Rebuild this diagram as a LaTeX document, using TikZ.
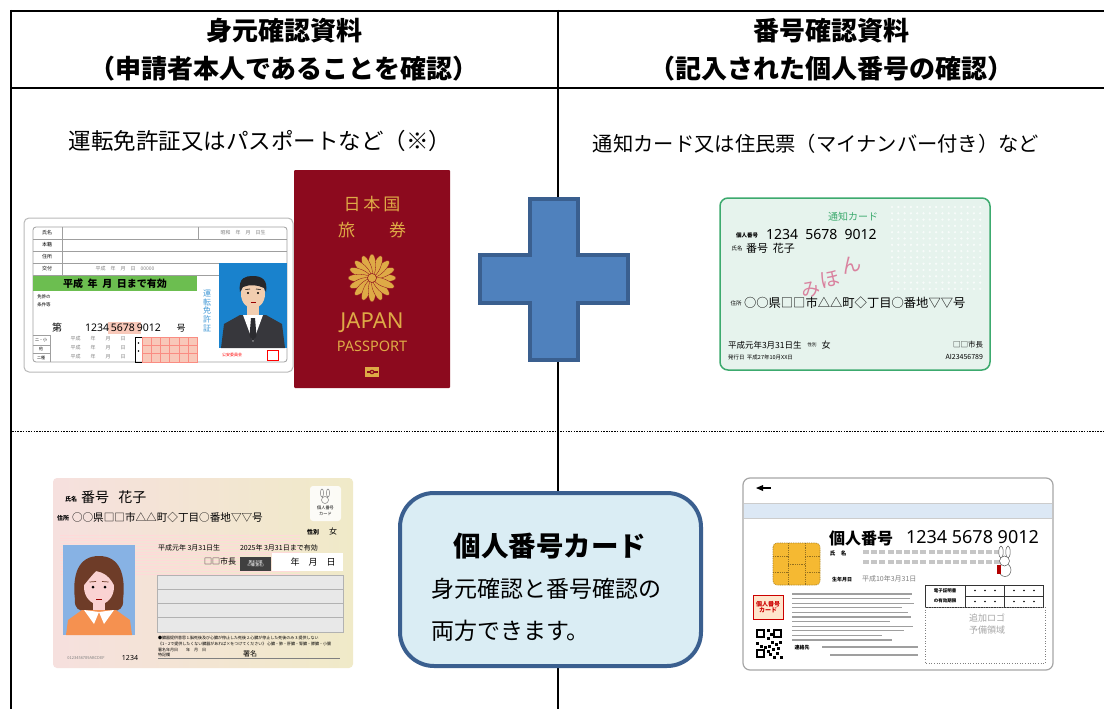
\documentclass[tikz,border=0pt]{standalone}
\usepackage{fontspec}
\setmainfont{Noto Sans CJK JP}
\newfontfamily\lat{Noto Sans}
\newcommand\myfs[1]{\fontsize{#1}{#1}\selectfont}
\definecolor{passred}{RGB}{140,10,30}
\definecolor{gold}{RGB}{222,170,70}
\definecolor{plusfill}{RGB}{79,129,189}
\definecolor{plusedge}{RGB}{58,95,143}
\definecolor{boxfill}{RGB}{218,237,244}
\definecolor{lgreen}{RGB}{108,190,80}
\definecolor{tgreen}{RGB}{60,170,110}
\definecolor{tcfill}{RGB}{230,243,237}
\definecolor{photoblue}{RGB}{25,130,205}
\definecolor{skin}{RGB}{242,205,175}
\definecolor{suit}{RGB}{55,55,60}
\definecolor{lpink}{RGB}{248,200,185}
\definecolor{mpink}{RGB}{246,224,222}
\definecolor{mbeige}{RGB}{240,234,200}
\definecolor{wblue}{RGB}{135,178,228}
\definecolor{hair}{RGB}{110,60,40}
\definecolor{fskin}{RGB}{250,210,210}
\definecolor{orng}{RGB}{245,145,80}
\definecolor{band}{RGB}{220,232,245}
\definecolor{chip}{RGB}{245,185,50}
\definecolor{mihon}{RGB}{215,110,145}
\usetikzlibrary{shapes.geometric}
\tikzset{
  hdr/.style={font=\myfs{26}\bfseries},
  tiny/.style={font=\myfs{5}},
  grid/.style={line width=2pt},
}
\begin{document}
\begin{tikzpicture}[x=1pt,y=-1pt,every node/.style={inner sep=0pt,outer sep=0pt}]
\useasboundingbox (0,0) rectangle (1104,709);
\fill[white] (0,0) rectangle (1104,709);
% table lines
\draw[grid] (10,11) -- (1104,11);
\draw[grid] (10,88) -- (1104,88);
\draw[grid] (11,10) -- (11,709);
\draw[grid] (558,10) -- (558,709);
\draw[line width=1pt,dash pattern=on 1.5pt off 1.2pt] (12,431) -- (1104,431);
% headers
\node[hdr] (h1) at (284,31) {身元確認資料};
\node[hdr] (h2) at (284,69) {（申請者本人であることを確認）};
\node[hdr] (h3) at (831,31) {番号確認資料};
\node[hdr] (h4) at (831,69) {（記入された個人番号の確認）};
\node (t1) at (260,141) {\myfs{22.5}運転免許証又はパスポートなど（※）};
\node (t2) at (816,144) {\myfs{20.3}通知カード又は住民票（マイナンバー付き）など};
% ---------------- driver licence
\draw[gray!55,fill=white,rounded corners=5pt,line width=1pt] (24,218) rectangle (293,372);
\draw[gray!75,rounded corners=3pt,line width=0.8pt] (33,227) rectangle (287,362);
\foreach \yy in {239,251,263} \draw[gray!75,line width=0.6pt] (33,\yy) -- (287,\yy);
\draw[gray!75,line width=0.6pt] (33,275) -- (219,275);
\draw[gray!75,line width=0.6pt] (62,227) -- (62,275);
\draw[gray!75,line width=0.6pt] (198,227) -- (198,239);
\node[tiny] (l1) at (47,233) {氏名};
\node[tiny] (l2) at (47,245) {本籍};
\node[tiny] (l3) at (47,257) {住所};
\node[tiny] (l4) at (47,269) {交付};
\node[tiny,gray] (l5) at (243,233) {昭和\quad 年\quad 月\quad 日生};
\node[tiny,gray] (l6) at (125,269) {平成\quad 年\quad 月\quad 日\quad 00000};
\fill[lgreen] (33,276) rectangle (197,291);
\node[font=\myfs{10}\bfseries] (l7) at (115,283.5) {平成\ \ 年\ \ 月\ \ 日まで有効};
\node[tiny,font=\myfs{4.5}] (l8) at (44,297) {免許の};
\node[tiny,font=\myfs{4.5}] (l9) at (44,305) {条件等};
\fill[lpink] (108,322) rectangle (141,334);
\node[font=\myfs{10}] (l10) at (57,328) {第};
\node[font=\lat\myfs{10.5}] (l11) at (123,328) {1234\,5678\,9012};
\node[font=\myfs{9}] (l12) at (181,328) {号};
\draw[gray!75,line width=0.6pt] (33,335) -- (50,335) (33,345) -- (50,345) (33,353) -- (50,353) (50,335) -- (50,362);
\node[tiny,font=\myfs{4}] (l13) at (41,340) {二・小};
\node[tiny,font=\myfs{4}] (l14) at (41,349) {他};
\node[tiny,font=\myfs{4}] (l15) at (41,357.5) {二種};
\foreach \yy/\nn in {339/a,348/b,357/c}
  \node[tiny,gray] (lr\nn) at (98,\yy) {平成\qquad 年\qquad 月\qquad 日};
\draw[black,line width=0.6pt] (135,337) rectangle (142,362);
\fill (138.5,343) circle (0.8) (138.5,351) circle (0.8);
\foreach \i in {0,...,5} \foreach \j in {0,1,2}
  \draw[lpink!70!red,fill=lpink,line width=0.4pt] (142+\i*9.2,337+\j*8.33) rectangle ++(9.2,8.33);
\node[align=center,font=\myfs{8}\linespread{1.1}\selectfont,text=photoblue!80] (l16) at (207,311) {運\\転\\免\\許\\証};
% photo man
\fill[photoblue] (219,263) rectangle (287,348);
\fill[suit] (221,348) -- (224,324) -- (240,315) -- (266,315) -- (282,324) -- (285,348) -- cycle;
\fill[skin] (247,302) rectangle (259,317);
\fill[white] (243,315) -- (253,342) -- (263,315) -- cycle;
\fill[suit!80!black] (251,318) -- (255,318) -- (256.5,336) -- (253,341) -- (249.5,336) -- cycle;
\fill[skin] (253,294) ellipse (12 and 14.5);
\fill[suit!70!black] (240,292) .. controls (238,277) and (246,276) .. (253,276) .. controls (262,276) and (268,280) .. (266,292) -- (264,288) .. controls (258,285) and (250,284) .. (243,287) -- cycle;
\fill[black] (248,293) circle (1.1) (258,293) circle (1.1);
\draw[black,line width=0.6pt] (245.5,289.5) -- (250,289) (256,289) -- (260.5,289.5);
\draw[red!60!black,line width=0.6pt] (250.5,302) -- (255.5,302);
\node[tiny,text=red,font=\myfs{4}] (l17) at (232,355) {公安委員会};
\draw[red,line width=0.6pt] (267,350) rectangle (278,360);
% ---------------- passport
\fill[passred,rounded corners=1pt] (294,170) rectangle (450,388);
\node[text=gold,font=\myfs{17}] (p1) at (372,204) {日\,本\,国};
\node[text=gold,font=\myfs{17}] (p2) at (372,230) {旅\qquad 券};
\foreach \a in {0,22.5,...,337.5}
  \fill[gold,draw=passred,line width=0.3pt,rotate around={\a:(372,278)}] (385,278) ellipse (11 and 3.8);
\fill[gold,draw=passred,line width=0.5pt] (372,278) circle (4.5);
\node[text=gold,font=\lat\myfs{22}] (p3) at (372,323) {JAPAN};
\node[text=gold,font=\lat\myfs{14.5}] (p4) at (372,346) {PASSPORT};
\fill[gold] (365,367) rectangle (379,377);
\fill[passred] (366.5,371) rectangle (377.5,373);
\fill[passred] (372,372) circle (2.3);
\fill[gold] (372,372) circle (1.2);
% ---------------- plus
\draw[fill=plusfill,draw=plusedge,line width=4pt]
  (530,199) -- (578,199) -- (578,255) -- (628,255) -- (628,303) -- (578,303) -- (578,360) -- (530,360) -- (530,303) -- (480,303) -- (480,255) -- (530,255) -- cycle;
% ---------------- notification card
\draw[tgreen,fill=tcfill,line width=1.5pt,rounded corners=8pt] (720,198) rectangle (990,370);
\foreach \i in {0,...,14} \foreach \j in {0,...,13}
  \fill[white,opacity=0.75] (892+\i*6.3,207+\j*6.3) circle (1.2);
\node[text=tgreen,font=\myfs{10}] (n1) at (853,217) {通知カード};
\node[font=\myfs{5.5}\bfseries] (n2) at (747,235) {個人番号};
\node[font=\lat\myfs{14}\bfseries,anchor=west] (n3) at (766,234) {1234\ \ 5678\ \ 9012};
\node[font=\myfs{5.5}] (n4) at (737,248) {氏名};
\node[font=\myfs{11},anchor=west] (n5) at (746,248) {番号\ \ 花子};
\node[font=\myfs{5.5}] (n6) at (736,303) {住所};
\node[font=\myfs{12.3},anchor=west] (n7) at (744,303) {○○県□□市△△町◇丁目○番地▽▽号};
\node[text=mihon,opacity=0.85,font=\myfs{19},rotate=8] (n8) at (811,290) {み};
\node[text=mihon,opacity=0.85,font=\myfs{20},rotate=12] (n9) at (830,279) {ほ};
\node[text=mihon,opacity=0.85,font=\myfs{20},rotate=15] (n10) at (851,265) {ん};
\node[font=\myfs{8.5},anchor=west] (n11) at (728,345) {平成元年3月31日生};
\node[font=\myfs{4.5}] (n12) at (812,345) {性別};
\node[font=\myfs{9}] (n13) at (826,345) {女};
\node[font=\myfs{5.5},anchor=west] (n14) at (728,357) {発行日\ \ 平成27年10月XX日};
\node[font=\myfs{7.5},anchor=east] (n15) at (983,345) {□□市長};
\node[font=\myfs{7},anchor=east] (n16) at (983,357) {AI23456789};
% ---------------- my number card front
\shade[left color=mpink,right color=mbeige,rounded corners=4pt] (53,478) rectangle (353,668);
\foreach \k in {0,...,14} \draw[red!15,line width=0.4pt] (60,535+\k*2.8) -- (300,535+\k*2.8);
\node[font=\myfs{6}\bfseries] (f1) at (71,499) {氏名};
\node[font=\myfs{14},anchor=west] (f2) at (81,497) {番号\ \ \ 花子};
\node[font=\myfs{6}\bfseries] (f3) at (63,518) {住所};
\node[font=\myfs{10.6},anchor=west] (f4) at (72,517) {○○県□□市△△町◇丁目○番地▽▽号};
\fill[white,opacity=0.85,rounded corners=3pt] (310,486) rectangle (341,521);
\draw[gray,line width=0.5pt] (322,493) ellipse (1.6 and 4) (328,493) ellipse (1.6 and 4) (325,500) circle (3.5);
\node[font=\myfs{4.2}] (f5) at (325.5,508) {個人番号};
\node[font=\myfs{4.2}] (f6) at (325.5,514) {カード};
\node[font=\myfs{6}\bfseries] (f7) at (313,532) {性別};
\node[font=\myfs{8}] (f8) at (333,531) {女};
\node[font=\myfs{7},anchor=west] (f9) at (158,548) {平成元年\ 3月31日生};
\node[font=\myfs{7},anchor=west] (f10) at (240,548) {2025年\ 3月31日まで有効};
\node[font=\myfs{8}] (f11) at (220,561) {□□市長};
\fill[black!75] (240,557) rectangle (271,571);
\node[font=\myfs{3.5},text=white,align=center] (f12) at (255.5,564) {署名記載\\の欄(署名)};
\fill[white] (272,553) rectangle (343,571);
\node[font=\myfs{9}] (f13) at (313,562) {年\quad 月\quad 日};
\fill[gray!18] (157,575) rectangle (343,632);
\draw[gray!60,line width=0.5pt] (157,575) rectangle (343,632) (157,589) -- (343,589) (157,603) -- (343,603) (157,617) -- (343,617);
\node[font=\myfs{4},anchor=west] (f14) at (158,638) {●臓器提供意思\ 1.脳死後及び心臓が停止した死後\ 2.心臓が停止した死後のみ\ 3.提供しない};
\node[font=\myfs{4},anchor=west] (f15) at (158,644) {《1・2で提供したくない臓器があれば×をつけてください》\ 心臓・肺・肝臓・腎臓・膵臓・小腸};
\node[font=\myfs{4},anchor=west] (f16) at (158,650) {署名年月日\qquad 年\quad 月\quad 日};
\node[font=\myfs{4},anchor=west] (f17) at (158,655) {特記欄};
\draw[gray,line width=0.4pt] (158,658) -- (340,658);
\node[font=\myfs{7}] (f18) at (250,654) {署名};
\node[font=\myfs{4},text=gray] (f19) at (86,658) {0123456789ABCDEF};
\node[font=\lat\myfs{7}\bfseries] (f20) at (130,658) {1234};
% woman photo
\fill[wblue] (63,545) rectangle (135,635);
\fill[hair] (75,600) .. controls (72,575) and (78,556) .. (99,556) .. controls (120,556) and (126,575) .. (123,600) .. controls (124,608) and (118,612) .. (114,610) -- (84,610) .. controls (80,612) and (74,608) .. (75,600) -- cycle;
\fill[fskin] (93,600) rectangle (105,612);
\fill[fskin] (99,587) ellipse (15 and 17.5);
\fill[hair] (84,585) .. controls (84,567) and (92,563) .. (100,563) .. controls (110,563) and (116,572) .. (114,585) .. controls (108,573) and (100,572) .. (96,571) .. controls (92,575) and (88,580) .. (84,585) -- cycle;
\fill[orng] (66,635) -- (68,620) -- (82,610) -- (116,610) -- (130,620) -- (132,635) -- cycle;
\fill[white] (84,610) -- (99,612) -- (94,624) -- cycle (114,610) -- (99,612) -- (104,624) -- cycle;
\fill[black] (93,587) circle (1.5) (105,587) circle (1.5);
\draw[hair,line width=0.7pt] (89.5,582) -- (96,581.5) (102,581.5) -- (108.5,582);
\draw[red!60!black,line width=0.6pt] (96,599) -- (102,599);
% ---------------- my number card back
\draw[gray!70,fill=white,line width=1.2pt,rounded corners=7pt] (743,478) rectangle (1053,670);
\fill[band] (744,503) rectangle (1052,518);
\draw[gray!40,line width=0.4pt] (744,503) -- (1052,503) (744,518) -- (1052,518);
\fill[black] (756,488) -- (763,485) -- (763,491) -- cycle;
\fill[black] (763,487) rectangle (771,489);
\node[font=\myfs{16}\bfseries,anchor=west] (b1) at (829,538) {個人番号};
\node[font=\lat\myfs{18},anchor=west] (b2) at (906,537) {1234\ 5678\ 9012};
\draw[chip!70!black,fill=chip,rounded corners=4pt,dash pattern=on 1pt off 0.8pt,line width=0.6pt] (773,543) rectangle (820,585);
\draw[chip!60!black,dash pattern=on 1pt off 0.8pt,line width=0.5pt] (773,556) -- (788,556) (773,572) -- (788,572) (805,556) -- (820,556) (805,572) -- (820,572) (788,543) -- (788,585) (805,543) -- (805,585) (788,564) -- (805,564);
\node[font=\myfs{5.5}\bfseries] (b3) at (838,553) {氏\quad 名};
\foreach \i in {0,...,16} {
  \fill[gray!45] (863+\i*8.2,550) rectangle ++(6,4);
  \fill[gray!45] (863+\i*8.2,560) rectangle ++(6,4);
}
\node[font=\myfs{5}\bfseries] (b4) at (842,580) {生年月日};
\node[font=\myfs{7},text=gray,anchor=west] (b5) at (862,579) {平成10年3月31日};
% rabbit back
\draw[gray!70!black,line width=0.5pt,fill=white] (1001,552) ellipse (2.2 and 6) (1008,552) ellipse (2.2 and 6);
\draw[gray!70!black,line width=0.5pt,fill=white] (1005,570) ellipse (6 and 6.5);
\draw[gray!70!black,line width=0.5pt,fill=white] (1004.5,561) circle (5);
\fill[red!70!black] (997,565) rectangle (1001,574);
% table
\draw[black!80,fill=white,line width=0.7pt] (925,585) rectangle (1043,607);
\draw[black!80,line width=0.7pt] (965,585) -- (965,607) (965,596) -- (1043,596) (1004,585) -- (1004,607);
\foreach \xx in {975,985,995,1014,1024,1034} \foreach \yy in {590.5,601.5} \fill (\xx,\yy) circle (0.9);
\node[font=\myfs{4.5}\bfseries] (b6) at (945,591) {電子証明書};
\node[font=\myfs{4.5}\bfseries] (b7) at (945,601) {の有効期限};
\draw[gray,dotted,line width=0.6pt] (925,607) rectangle (1045,663);
\node[font=\myfs{9},text=gray!70] (b8) at (987,618) {追加ロゴ};
\node[font=\myfs{9},text=gray!70] (b9) at (987,630) {予備領域};
% stamp
\draw[red!80!black,fill=orange!20,line width=0.6pt] (753,595) rectangle (783,619);
\node[font=\myfs{6}\bfseries,text=red!80!black,align=center] (b10) at (768,607) {個人番号\\カード};
% QR
\draw[black,line width=1.6pt] (757,630) rectangle (764,637) (774,630) rectangle (781,637) (757,650) rectangle (764,657);
\foreach \qx/\qy in {767/629,770/633,767/637,771/641,756/642,760/645,764/646,768/645,775/643,779/641,772/648,776/652,769/653,780/656,773/656,777/647,767/650}
  \fill[black] (\qx,\qy) rectangle ++(3,3);
% small text lines
\foreach \k/\ll in {0/120,1/118,2/122,3/110,4/116,5/119,6/98,7/121,8/112,9/90,10/100}
  \draw[gray!75,line width=1.1pt] (792,594+\k*4.6) -- (792+\ll,594+\k*4.6);
\node[font=\myfs{5}\bfseries] (b11) at (802,648) {連絡先};
\draw[gray!75,line width=1.1pt] (822,647) -- (918,647) (830,655) -- (918,655);
% ---------------- central box
\draw[plusedge,fill=boxfill,line width=4pt,rounded corners=34pt] (400,493) rectangle (701,666);
\node[font=\myfs{27.5}\bfseries] (c1) at (550,546) {個人番号カード};
\node[font=\myfs{23},anchor=west] (c2) at (431,589) {身元確認と番号確認の};
\node[font=\myfs{23},anchor=west] (c3) at (431,631) {両方できます。};
\end{tikzpicture}
\end{document}
